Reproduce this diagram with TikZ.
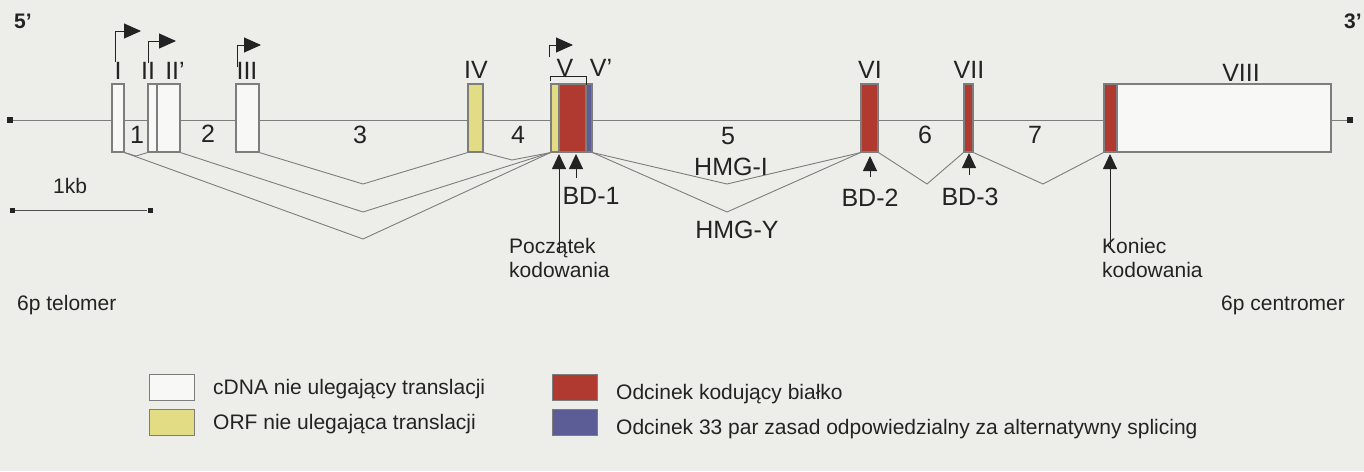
\documentclass[tikz,border=0pt]{standalone}
\usepackage{fontspec}
\setmainfont{Liberation Sans}
\usetikzlibrary{arrows.meta}

\definecolor{paper}{RGB}{237,237,233}
\definecolor{linegray}{RGB}{125,125,125}
\definecolor{ink}{RGB}{35,35,35}
\definecolor{exonred}{RGB}{176,58,48}
\definecolor{exonyel}{RGB}{226,220,132}
\definecolor{exonblue}{RGB}{92,92,150}

\tikzset{
  exon/.style={draw=linegray, line width=1.2pt, minimum height=68pt, inner sep=0pt, fill=paper!40!white},
  coding/.style={exon, fill=exonred},
  orf/.style={exon, fill=exonyel},
  alt/.style={exon, fill=exonblue},
  numlabel/.style={font=\fontsize{25}{30}\selectfont, text=ink, inner sep=0pt},
  lowtext/.style={font=\fontsize{21}{24}\selectfont, text=ink, inner sep=0pt, align=left},
  intron/.style={draw=linegray, line width=0.9pt},
  promoter/.style={draw=ink, line width=0.9pt, -{Triangle[length=17pt,width=15pt]}},
  site/.style={draw=ink, line width=0.9pt, -{Triangle[length=15pt,width=14pt]}},
  enddot/.style={fill=ink, minimum size=6pt, inner sep=0pt},
  key/.style={draw=linegray, line width=1pt, minimum width=45pt, minimum height=26pt, inner sep=0pt}
}

\begin{document}
\begin{tikzpicture}[x=1pt, y=-1pt]
\fill[paper] (0,0) rectangle (1364,471);
\useasboundingbox (0,0) rectangle (1364,471);

\node[lowtext, font=\fontsize{21}{24}\selectfont\bfseries, anchor=base west] (five) at (14,28) {5’};
\node[lowtext, font=\fontsize{21}{24}\selectfont\bfseries, anchor=base west] (three) at (1344,28) {3’};

\node[enddot] (end5) at (10,120) {};
\node[enddot] (end3) at (1350,120) {};
\draw[intron] (end5) -- (end3);

\node[exon, minimum width=12pt] (eI) at (118,118) {};
\node[exon, minimum width=9pt] (eII) at (152.5,118) {};
\node[exon, minimum width=23pt] (eIIp) at (168.5,118) {};
\node[exon, minimum width=23pt] (eIII) at (247.5,118) {};
\node[orf, minimum width=15pt] (eIV) at (475.5,118) {};
\node[orf, minimum width=8pt] (eVa) at (555,118) {};
\node[coding, minimum width=27pt] (eVb) at (572.5,118) {};
\node[alt, minimum width=6pt] (eVc) at (589,118) {};
\node[coding, minimum width=17pt] (eVI) at (869.5,118) {};
\node[coding, minimum width=9pt] (eVII) at (968.5,118) {};
\node[exon, minimum width=214pt] (eVIIIb) at (1224,118) {};
\node[coding, minimum width=13pt] (eVIIIa) at (1110.5,118) {};

\node[numlabel, anchor=base] (lI) at (118,79) {I};
\node[numlabel, anchor=base] (lII) at (148,79) {II};
\node[numlabel, anchor=base] (lIIp) at (175,79) {II’};
\node[numlabel, anchor=base] (lIII) at (247,79) {III};
\node[numlabel, anchor=base] (lIV) at (476,78) {IV};
\node[numlabel, anchor=base] (lV) at (565,76) {V};
\node[numlabel, anchor=base] (lVp) at (601,76) {V’};
\node[numlabel, anchor=base] (lVI) at (870,78) {VI};
\node[numlabel, anchor=base] (lVII) at (969,78) {VII};
\node[numlabel, anchor=base] (lVIII) at (1241,81) {VIII};

\coordinate (pI) at (115,62);   \coordinate (pIe) at (141,31);
\coordinate (pII) at (148,63);  \coordinate (pIIe) at (176,41);
\coordinate (pIII) at (237,67); \coordinate (pIIIe) at (261,45);
\coordinate (pV) at (549,57);   \coordinate (pVe) at (573,45);
\draw[promoter] (pI) |- (pIe);
\draw[promoter] (pII) |- (pIIe);
\draw[promoter] (pIII) |- (pIIIe);
\draw[promoter] (pV) |- (pVe);
\draw[draw=ink, line width=0.8pt] (eVa.north west) ++(0,-2) -- ++(0,-5) -| ([yshift=-2pt]eVb.north east);

\node[numlabel, anchor=center] (i1) at (137,135) {1};
\node[numlabel, anchor=center] (i2) at (208,134) {2};
\node[numlabel, anchor=center] (i3) at (360,135) {3};
\node[numlabel, anchor=center] (i4) at (518,135) {4};
\node[numlabel, anchor=center] (i5) at (728,136) {5};
\node[numlabel, anchor=center] (i6) at (925,135) {6};
\node[numlabel, anchor=center] (i7) at (1035,135) {7};

\coordinate (v12) at (136,156);
\coordinate (vI5) at (363,239);
\coordinate (vII5) at (363,212);
\coordinate (v34) at (363,184);
\coordinate (v45) at (512,160);
\coordinate (vHI) at (727,184);
\coordinate (vHY) at (727,212);
\coordinate (v67) at (927,184);
\coordinate (v78) at (1043,184);
\draw[intron] (eI.south east) -- (v12) -- (eII.south west);
\draw[intron] (eI.south east) -- (vI5) -- (eVa.south west);
\draw[intron] (eIIp.south east) -- (vII5) -- (eVa.south west);
\draw[intron] (eIII.south east) -- (v34) -- (eIV.south west);
\draw[intron] (eIV.south east) -- (v45) -- (eVa.south west);
\draw[intron] (eVc.south east) -- (vHI) -- (eVI.south west);
\draw[intron] (eVc.south east) -- (vHY) -- (eVI.south west);
\draw[intron] (eVI.south east) -- (v67) -- (eVII.south west);
\draw[intron] (eVII.south east) -- (v78) -- (eVIIIa.south west);

\node[numlabel] (hmgi) at (731,167) {HMG-I};
\node[numlabel] (hmgy) at (737,230) {HMG-Y};

\coordinate (cs) at (559,154);   \coordinate (csl) at (559,252);
\coordinate (bd1) at (576,154);  \coordinate (bd1l) at (576,178);
\coordinate (bd2) at (870,156);  \coordinate (bd2l) at (870,177);
\coordinate (bd3) at (969,153);  \coordinate (bd3l) at (969,175);
\coordinate (ce) at (1110,154);  \coordinate (cel) at (1110,247);
\draw[site] (csl) -- (cs);
\draw[site] (bd1l) -- (bd1);
\draw[site] (bd2l) -- (bd2);
\draw[site] (bd3l) -- (bd3);
\draw[site] (cel) -- (ce);

\node[numlabel] (lbd1) at (591,196) {BD-1};
\node[numlabel] (lbd2) at (870,198) {BD-2};
\node[numlabel] (lbd3) at (970,197) {BD-3};

\node[lowtext, anchor=base west] (kb) at (53,193) {1kb};
\node[enddot, minimum size=5pt] (kbl) at (12,210) {};
\node[enddot, minimum size=5pt] (kbr) at (150,210) {};
\draw[draw=ink!80, line width=0.9pt] (kbl) -- (kbr);

\node[lowtext, anchor=base west] (start) at (509,277) {Początek\\kodowania};
\node[lowtext, anchor=base west] (stop) at (1102,277) {Koniec\\kodowania};
\node[lowtext, anchor=base west] (telomer) at (17,310) {6p telomer};
\node[lowtext, anchor=base west] (centromer) at (1221,310) {6p centromer};

\node[key, fill=paper!40!white] (k1) at (172,387) {};
\node[key, fill=exonyel] (k2) at (172,422) {};
\node[key, fill=exonred] (k3) at (575,387) {};
\node[key, fill=exonblue] (k4) at (575,422) {};
\node[lowtext, anchor=base west] (t1) at (213,394) {cDNA nie ulegający translacji};
\node[lowtext, anchor=base west] (t2) at (213,429) {ORF nie ulegająca translacji};
\node[lowtext, anchor=base west] (t3) at (616,399) {Odcinek kodujący białko};
\node[lowtext, anchor=base west] (t4) at (616,434) {Odcinek 33 par zasad odpowiedzialny za alternatywny splicing};
\end{tikzpicture}
\end{document}
